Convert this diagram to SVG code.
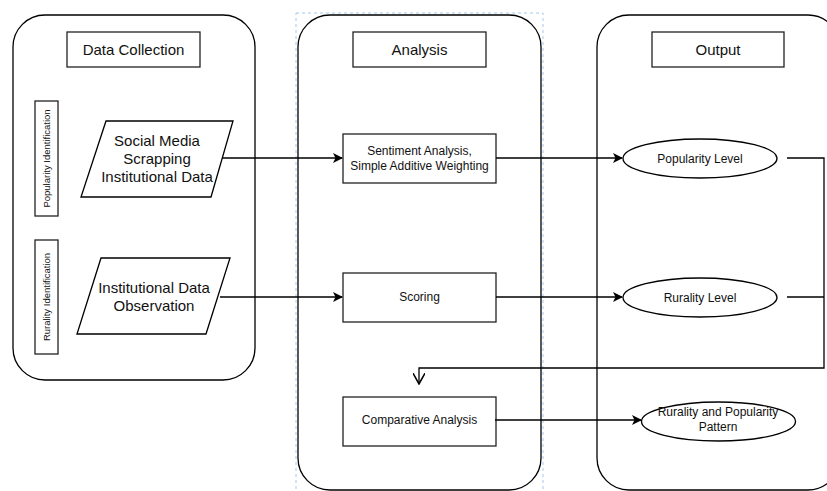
<svg xmlns="http://www.w3.org/2000/svg" width="827" height="491" viewBox="0 0 827 491">
<style>
.c{fill:#fff;stroke:#000;stroke-width:1.3}
.b{fill:#fff;stroke:#222;stroke-width:1.3}
.t{font-family:"Liberation Sans",Arial,sans-serif;fill:#111;text-anchor:middle}
.l{font-size:15px}
.m{font-size:12px}
.s{font-size:9.5px}
.e{fill:none;stroke:#000;stroke-width:1.3}
</style>
<defs>
<marker id="ah" viewBox="0 0 10 10" refX="9" refY="5" markerWidth="10" markerHeight="10" markerUnits="userSpaceOnUse" orient="auto">
<path d="M0,0 L10,5 L0,10 L2.5,5 Z" fill="#000"/>
</marker>
<marker id="oh" viewBox="0 0 10 10" refX="9" refY="5" markerWidth="12" markerHeight="12" markerUnits="userSpaceOnUse" orient="auto">
<path d="M0,0 L9,5 L0,10" fill="none" stroke="#000" stroke-width="1.3"/>
</marker>
</defs>
<rect width="827" height="491" fill="#fff"/>
<g id="data-collection">
<rect class="c" x="13" y="15" width="242" height="365" rx="32"/>
<rect class="b" x="67" y="32" width="133" height="35"/>
<text class="t l" x="133.5" y="55">Data Collection</text>
</g>
<g id="popularity-identification">
<rect class="b" x="35" y="101" width="23" height="115"/>
<text class="t s" transform="translate(49.5,158.5) rotate(-90)">Popularity Identification</text>
</g>
<g id="rurality-identification">
<rect class="b" x="35" y="240" width="23" height="114"/>
<text class="t s" transform="translate(49.5,297) rotate(-90)">Rurality Identification</text>
</g>
<g id="social-media">
<polygon class="c" points="106,121 233,121 211,197 81,197"/>
<text class="t l" x="157" y="146">Social Media</text>
<text class="t l" x="157" y="164">Scrapping</text>
<text class="t l" x="157" y="182">Institutional Data</text>
</g>
<g id="institutional-data">
<polygon class="c" points="101,258 230,258 206,334 77,334"/>
<text class="t l" x="154" y="293">Institutional Data</text>
<text class="t l" x="154" y="311">Observation</text>
</g>
<g id="analysis">
<rect x="296" y="13" width="247" height="480" fill="none" stroke="#a8c8ee" stroke-width="1" stroke-dasharray="3,3"/>
<rect class="c" x="298" y="15" width="243" height="475" rx="32"/>
<rect class="b" x="353" y="32" width="133" height="35"/>
<text class="t l" x="419.5" y="55">Analysis</text>
</g>
<g id="sentiment">
<rect class="b" x="343" y="134" width="153" height="49"/>
<text class="t m" x="419.5" y="155">Sentiment Analysis,</text>
<text class="t m" x="419.5" y="170">Simple Additive Weighting</text>
</g>
<g id="scoring">
<rect class="b" x="343" y="273" width="153" height="49"/>
<text class="t m" x="419.5" y="301">Scoring</text>
</g>
<g id="comparative">
<rect class="b" x="343" y="397" width="153" height="49"/>
<text class="t m" x="419.5" y="424">Comparative Analysis</text>
</g>
<g id="output">
<rect class="c" x="597" y="15" width="243" height="475" rx="32"/>
<rect class="b" x="652" y="32" width="132" height="35"/>
<text class="t l" x="718" y="55">Output</text>
</g>
<g id="popularity-level">
<ellipse class="c" cx="700" cy="158.5" rx="77" ry="19.5"/>
<text class="t m" x="700" y="163">Popularity Level</text>
</g>
<g id="rurality-level">
<ellipse class="c" cx="700" cy="297.5" rx="77" ry="19.5"/>
<text class="t m" x="700" y="302">Rurality Level</text>
</g>
<g id="pattern">
<ellipse class="c" cx="718.5" cy="421.5" rx="77" ry="19.5"/>
<text class="t m" x="718" y="416">Rurality and Popularity</text>
<text class="t m" x="718" y="431">Pattern</text>
</g>
<g id="connectors">
<path class="e" d="M222,158 H342" marker-end="url(#ah)"/>
<path class="e" d="M220,297 H342" marker-end="url(#ah)"/>
<path class="e" d="M496,158 H622" marker-end="url(#ah)"/>
<path class="e" d="M496,297 H622" marker-end="url(#ah)"/>
<path class="e" d="M495,420 H641" marker-end="url(#ah)"/>
<path class="e" d="M787,158 H824 V368 H419 V384" marker-end="url(#oh)"/>
<path class="e" d="M787,297 H824"/>
</g>
</svg>
